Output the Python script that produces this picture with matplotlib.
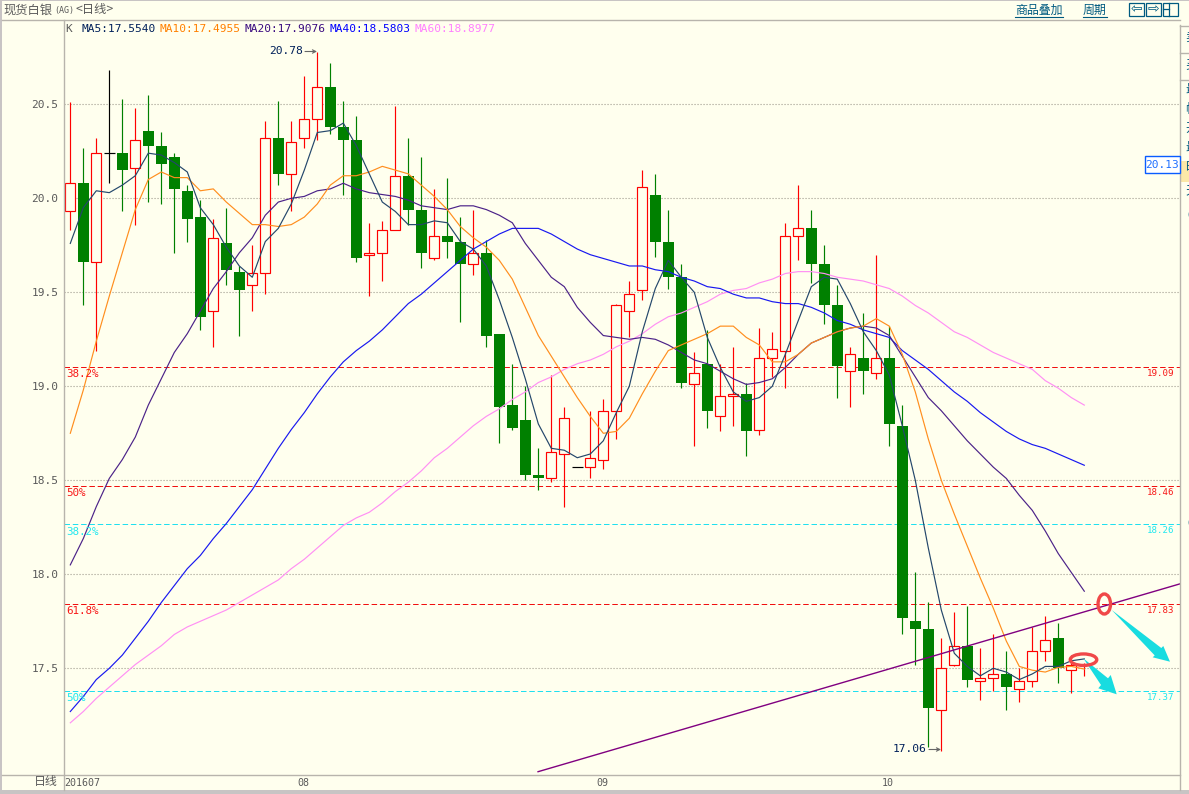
import matplotlib
matplotlib.use("Agg")
import matplotlib.pyplot as plt
from matplotlib.patches import Rectangle, Ellipse, Polygon

plt.rcParams['font.family'] = ['DejaVu Sans', 'Noto Sans CJK SC']

opens = [19.93,20.08,19.66,20.24,20.24,20.16,20.36,20.28,20.22,20.04,
         19.90,19.40,19.76,19.61,19.54,19.60,20.32,20.13,20.32,20.42,
         20.59,20.38,20.31,19.70,19.71,19.83,20.12,19.94,19.68,19.80,
         19.77,19.65,19.71,19.28,18.90,18.82,18.53,18.51,18.64,18.57,
         18.57,18.61,18.87,19.40,19.51,20.02,19.77,19.58,19.01,19.12,
         18.84,18.95,18.96,18.77,19.15,19.19,19.80,19.84,19.65,19.43,
         19.08,19.15,19.07,19.15,18.79,17.75,17.71,17.28,17.52,17.62,
         17.43,17.45,17.47,17.39,17.43,17.59,17.66,17.49,17.505]
closes = [20.08,19.66,20.24,20.24,20.15,20.31,20.28,20.18,20.05,19.89,
          19.37,19.79,19.62,19.51,19.60,20.32,20.13,20.30,20.42,20.59,
          20.38,20.31,19.68,19.71,19.83,20.12,19.94,19.71,19.80,19.77,
          19.65,19.71,19.27,18.89,18.78,18.53,18.51,18.65,18.83,18.57,
          18.62,18.87,19.43,19.49,20.06,19.77,19.58,19.02,19.07,18.87,
          18.95,18.96,18.76,19.15,19.20,19.80,19.84,19.65,19.43,19.11,
          19.17,19.08,19.15,18.80,17.77,17.71,17.29,17.50,17.62,17.44,
          17.45,17.47,17.40,17.43,17.59,17.65,17.50,17.52,17.51]
highs = [20.51,20.27,20.32,20.68,20.53,20.48,20.55,20.35,20.24,20.07,
         19.99,19.89,19.95,19.64,19.75,20.41,20.52,20.41,20.65,20.78,
         20.72,20.52,20.44,19.87,19.88,20.49,20.32,20.22,20.05,20.11,
         19.90,19.94,19.78,19.28,19.12,19.00,18.67,19.06,18.89,18.57,
         18.87,18.93,19.44,19.56,20.15,20.13,19.94,19.65,19.18,19.30,
         19.12,19.21,19.02,19.31,19.29,19.87,20.07,19.94,19.75,19.54,
         19.21,19.39,19.70,19.32,18.90,18.01,17.85,17.66,17.80,17.83,
         17.61,17.68,17.59,17.50,17.72,17.78,17.74,17.57,17.53]
lows = [19.83,19.43,19.19,20.08,19.93,19.86,19.98,19.97,19.71,19.77,
        19.30,19.21,19.54,19.27,19.40,19.49,20.07,19.93,20.27,20.31,
        20.34,20.02,19.66,19.48,19.56,19.83,19.86,19.63,19.67,19.68,
        19.34,19.59,19.21,18.70,18.77,18.50,18.45,18.49,18.36,18.57,
        18.51,18.56,18.72,19.26,19.46,19.69,19.52,18.99,18.68,18.78,
        18.76,18.79,18.63,18.74,19.05,18.99,19.67,19.55,19.33,18.94,
        18.89,18.96,19.04,18.68,17.68,17.52,17.08,17.06,17.51,17.40,
        17.33,17.38,17.28,17.32,17.40,17.54,17.42,17.37,17.46]

ma5 = [19.76,19.95,20.04,20.03,20.07,20.12,20.24,20.23,20.19,20.14,
       19.95,19.86,19.74,19.64,19.58,19.77,19.84,19.97,20.15,20.35,
       20.36,20.40,20.28,20.13,19.98,19.93,19.86,19.86,19.88,19.87,
       19.77,19.73,19.64,19.46,19.26,19.04,18.80,18.67,18.66,18.62,
       18.64,18.71,18.86,19.00,19.29,19.52,19.67,19.58,19.50,19.26,
       19.10,18.97,18.92,18.94,19.00,19.17,19.35,19.53,19.58,19.57,
       19.44,19.29,19.19,19.06,18.79,18.50,18.14,17.81,17.58,17.51,
       17.46,17.50,17.48,17.44,17.47,17.51,17.51,17.54,17.55]
ma10 = [18.75,18.98,19.24,19.48,19.71,19.94,20.10,20.14,20.11,20.11,
        20.04,20.05,19.98,19.92,19.86,19.86,19.85,19.86,19.90,19.97,
        20.07,20.12,20.12,20.14,20.17,20.15,20.13,20.07,20.01,19.94,
        19.85,19.79,19.74,19.67,19.57,19.42,19.27,19.16,19.05,18.94,
        18.84,18.75,18.76,18.83,18.96,19.08,19.19,19.22,19.25,19.28,
        19.32,19.32,19.26,19.22,19.13,19.13,19.17,19.23,19.26,19.29,
        19.31,19.32,19.36,19.32,19.17,18.97,18.72,18.50,18.32,18.15,
        17.98,17.82,17.645,17.51,17.49,17.48,17.505,17.51,17.496]
ma20 = [18.05,18.19,18.36,18.51,18.61,18.73,18.90,19.04,19.18,19.28,
        19.40,19.52,19.61,19.71,19.79,19.91,19.98,20.00,20.01,20.04,
        20.05,20.08,20.05,20.03,20.02,20.01,19.99,19.96,19.95,19.94,
        19.96,19.96,19.94,19.91,19.87,19.76,19.67,19.58,19.53,19.42,
        19.34,19.27,19.26,19.25,19.26,19.25,19.22,19.18,19.14,19.12,
        19.08,19.04,19.01,19.02,19.04,19.10,19.17,19.23,19.26,19.29,
        19.31,19.32,19.31,19.27,19.16,19.05,18.94,18.87,18.79,18.71,
        18.64,18.57,18.51,18.42,18.34,18.23,18.11,18.01,17.91]
ma40 = [17.27,17.35,17.44,17.50,17.57,17.66,17.75,17.85,17.94,18.03,
        18.10,18.19,18.27,18.36,18.45,18.56,18.67,18.77,18.86,18.96,
        19.05,19.13,19.19,19.24,19.30,19.37,19.44,19.49,19.55,19.61,
        19.67,19.73,19.77,19.81,19.84,19.84,19.84,19.81,19.77,19.73,
        19.70,19.68,19.66,19.64,19.64,19.62,19.61,19.58,19.56,19.53,
        19.52,19.49,19.47,19.47,19.45,19.44,19.44,19.42,19.39,19.35,
        19.33,19.30,19.28,19.26,19.19,19.14,19.09,19.03,18.97,18.92,
        18.86,18.81,18.76,18.72,18.69,18.67,18.64,18.61,18.58]
ma60 = [17.21,17.27,17.34,17.40,17.46,17.52,17.57,17.62,17.68,17.72,
        17.75,17.78,17.81,17.85,17.89,17.93,17.97,18.03,18.08,18.14,
        18.20,18.26,18.30,18.33,18.38,18.44,18.49,18.55,18.62,18.67,
        18.73,18.79,18.84,18.88,18.93,18.97,19.02,19.05,19.09,19.12,
        19.14,19.17,19.21,19.24,19.28,19.33,19.37,19.39,19.42,19.45,
        19.49,19.51,19.52,19.55,19.57,19.60,19.61,19.61,19.60,19.58,
        19.57,19.56,19.54,19.52,19.48,19.43,19.39,19.34,19.29,19.26,
        19.22,19.18,19.15,19.12,19.09,19.03,18.99,18.94,18.90]

y_ticks = [17.5, 18.0, 18.5, 19.0, 19.5, 20.0, 20.5]
x_tick_pos = [-0.45, 17.5, 40.5, 62.4]
x_tick_labels = ['201607', '08', '09', '10']
red_levels = [19.10, 18.468, 17.84]
red_labels = ['19.09', '18.46', '17.83']
red_pcts = ['38.2%', '50%', '61.8%']
cyan_levels = [18.266, 17.378]
cyan_labels = ['18.26', '17.37']
cyan_pcts = ['38.2%', '50%']
trend_x = [35.98, 85.4]
trend_y = [16.95, 17.95]

BG = '#FFFFEE'
GREY = '#B8B4AC'
SIDE = '#C8C4C4'
TXT = '#5A5A5A'
NAVY = '#00205A'
TEAL = '#005A80'
MONO = 'DejaVu Sans Mono'
C_MA5, C_MA10, C_MA20, C_MA40, C_MA60 = '#24476B', '#FF8E1E', '#4B2288', '#1818F0', '#FF90F4'

W, H = 1189, 794
fig = plt.figure(figsize=(W / 100, H / 100), dpi=100, facecolor=BG)

L, R, T, B = 63.5, 1179.5, 19.5, 774.0
X0, DX, Y0, DY = 70.3, 13.0, 104.3, 188.0
ax = fig.add_axes([L / W, 1 - B / H, (R - L) / W, (B - T) / H])
ax.set_facecolor(BG)
ax.set_xlim((L - X0) / DX, (R - X0) / DX)
ax.set_ylim(20.5 - (B - Y0) / DY, 20.5 + (Y0 - T) / DY)
for s in ax.spines.values():
    s.set_visible(False)

ax.set_yticks(y_ticks, [f'{v:.1f}' for v in y_ticks], family=MONO, fontsize=8.0, color=TXT)
ax.tick_params(axis='y', length=0, pad=3.8)
ax.set_xticks(x_tick_pos, x_tick_labels, family=MONO, fontsize=7.2, color=TXT, ha='left')
ax.tick_params(axis='x', length=0, pad=2.8)
ax.grid(axis='y', color='#A09C90', lw=0.8, ls=(0, (1, 1.7)), zorder=1)
ax.set_axisbelow(True)

for v in red_levels:
    ax.axhline(v, color='#F01010', lw=0.72, ls=(0, (5.5, 2.8)), zorder=2)
for v in cyan_levels:
    ax.axhline(v, color='#20E0F0', lw=0.72, ls=(0, (5.5, 2.8)), zorder=2)

xs = list(range(len(closes)))
for i in xs:
    o, c, h, l = opens[i], closes[i], highs[i], lows[i]
    if c == o:
        col = '#000000'
        ax.vlines(i, l, h, color=col, lw=0.85, zorder=3)
        ax.hlines(c, i - 0.42, i + 0.42, color=col, lw=0.85, zorder=3)
    elif c < o:
        col = '#008000'
        ax.vlines(i, l, h, color=col, lw=0.85, zorder=3)
        ax.bar(i, o - c, bottom=c, width=11 / DX, color=col, lw=0, zorder=4)
    else:
        col = '#FF0000'
        ax.vlines(i, l, h, color=col, lw=0.85, zorder=3)
        if c - o >= 0.01:
            ax.bar(i, c - o, bottom=o, width=10 / DX, facecolor=BG, edgecolor=col, lw=0.85, zorder=4)

for series, col in [(ma60, C_MA60), (ma40, C_MA40), (ma20, C_MA20), (ma10, C_MA10), (ma5, C_MA5)]:
    ax.plot(xs, series, color=col, lw=0.85, zorder=5)

ax.plot(trend_x, trend_y, color='#800080', lw=1.0, zorder=6)

# Overlay in picture pixels for the window frame, captions and drawn-on marks
ov = fig.add_axes([0, 0, 1, 1], facecolor='none')
ov.set_xlim(0, W)
ov.set_ylim(H, 0)
ov.axis('off')

def rect(x0, y0, x1, y1, fc, ec='none', lw=0, z=1):
    ov.add_patch(Rectangle((x0, y0), x1 - x0, y1 - y0, facecolor=fc, edgecolor=ec, lw=lw, zorder=z))

rect(0, 0, W, 1.2, SIDE)
rect(0, 0, 2, H, SIDE)
rect(0, 790, W, H, SIDE)
ov.plot([2, 1179.5], [19.5, 19.5], color=GREY, lw=1)
ov.plot([2, 1179.5], [774.5, 774.5], color=GREY, lw=1)
ov.plot([63.5, 63.5], [19.5, 790], color=GREY, lw=1)
ov.plot([1179.5, 1179.5], [25, 790], color=GREY, lw=1)
for yy in [25.5, 52.5, 79.5]:
    ov.plot([1180, W], [yy, yy], color=GREY, lw=1)
rect(1180, 160.5, W, 181.5, '#FBE8A8')

# Title, legend
ov.text(3, 10, '现货白银', family='Noto Sans CJK SC', fontsize=8.8, color=TXT, va='center')
ov.text(54, 10.5, '(AG)', family=MONO, fontsize=6, color=TXT, va='center')
ov.text(76, 10, '<日线>', family=['Noto Sans CJK SC'], fontsize=8.8, color=TXT, va='center')
ov.text(65, 29.5, 'K', family=MONO, fontsize=8, color=TXT, va='center')
for x, s, col in [(81.5, 'MA5:17.5540', NAVY), (159, 'MA10:17.4955', '#FF8000'),
                  (244.5, 'MA20:17.9076', '#3A0A80'), (329, 'MA40:18.5803', '#0000FF'),
                  (414.5, 'MA60:18.8977', '#FF80FF')]:
    ov.text(x, 29.5, s, family=MONO, fontsize=8.05, color=col, va='center')

# Toolbar
ov.text(1015, 10, '商品叠加', family='Noto Sans CJK SC', fontsize=8.6, color=TEAL, va='center')
ov.text(1083, 10, '周期', family='Noto Sans CJK SC', fontsize=8.6, color=TEAL, va='center')
ov.plot([1015, 1063], [16.5, 16.5], color=TEAL, lw=0.8)
ov.plot([1083, 1107], [16.5, 16.5], color=TEAL, lw=0.8)
for x0, x1, g in [(1128.5, 1143.5, '⇦'), (1146, 1160.5, '⇨'), (1162.5, 1177.5, None)]:
    rect(x0, 2.5, x1, 15.5, 'none', TEAL, 0.9)
    if g:
        ov.text((x0 + x1) / 2, 9, g, family='DejaVu Sans', fontsize=10, color=TEAL, ha='center', va='center')
ov.plot([1168.5, 1168.5], [2.5, 15.5], color=TEAL, lw=0.9)
ov.plot([1162.5, 1168.5], [9, 9], color=TEAL, lw=0.9)

# Side panel characters, cut by the window edge
for yy, s in [(37, '卖'), (65, '买'), (90, '最'), (110, '幅'), (128, '开'), (147, '最'), (168, '昨'), (192, '天')]:
    ov.text(1185, yy, s, family='Noto Sans CJK SC', fontsize=9, color=TEAL, va='center', clip_on=False)
for yy in [215, 523]:
    ov.text(1185, yy, '(', family=MONO, fontsize=9, color=TEAL, va='center')

# Current value box
rect(1144.5, 155.5, 1179.5, 172.5, '#FFFFFF', '#0A5CFF', 1, z=6)
ov.text(1162, 164.5, '20.13', family=MONO, fontsize=8, color='#2070FF', ha='center', va='center', zorder=7)

# Fibonacci captions
red_pct_y = [374, 493, 611]
cyan_pct_y = [532, 698]
for yy, s in zip(red_pct_y, red_pcts):
    ov.text(66.5, yy, s, family=MONO, fontsize=7.8, color='#F81818', va='center')
for yy, s in zip(cyan_pct_y, cyan_pcts):
    ov.text(66.5, yy, s, family=MONO, fontsize=7.8, color='#20E8F0', va='center')
for v, s in zip(red_levels, red_labels):
    ov.text(1174, Y0 + (20.5 - v) * DY + 6.5, s, family=MONO, fontsize=6.6, color='#F81818', ha='right', va='center')
for v, s in zip(cyan_levels, cyan_labels):
    ov.text(1174, Y0 + (20.5 - v) * DY + 6.5, s, family=MONO, fontsize=6.6, color='#20E8F0', ha='right', va='center')

# High and low notes
ov.text(269, 51.5, '20.78', family=MONO, fontsize=8.1, color=NAVY, va='center')
ov.annotate('', xy=(317, 51.5), xytext=(305, 51.5),
            arrowprops=dict(arrowstyle='->', color='#666666', lw=0.8, shrinkA=0, shrinkB=0, mutation_scale=6))
ov.text(893, 749.5, '17.06', family=MONO, fontsize=8.1, color=NAVY, va='center')
ov.annotate('', xy=(941, 749.5), xytext=(929, 749.5),
            arrowprops=dict(arrowstyle='->', color='#666666', lw=0.8, shrinkA=0, shrinkB=0, mutation_scale=6))

# Hand drawn marks
ov.add_patch(Polygon([(1111.7, 610), (1161.3, 648), (1163.3, 646), (1170, 661.7), (1152.7, 657.3),
                      (1154.7, 655.4)], closed=True, facecolor='#18DCE0', edgecolor='none', zorder=7))
ov.add_patch(Polygon([(1083.5, 658.5), (1108, 678.3), (1110.7, 675), (1116.7, 694.3), (1098.3, 688.3),
                      (1101, 685)], closed=True, facecolor='#18DCE0', edgecolor='none', zorder=7))
ov.add_patch(Ellipse((1104.3, 604), 12.5, 20, fill=False, edgecolor='#F04848', lw=2.4, zorder=8))
ov.add_patch(Ellipse((1083.5, 659.7), 26.5, 11.5, fill=False, edgecolor='#F04848', lw=2.4, zorder=8))

# Period label
ov.text(58, 782, '日线', family='Noto Sans CJK SC', fontsize=8.6, color=TXT, ha='right', va='center')

fig.savefig('out.png', dpi=100, facecolor=BG)
